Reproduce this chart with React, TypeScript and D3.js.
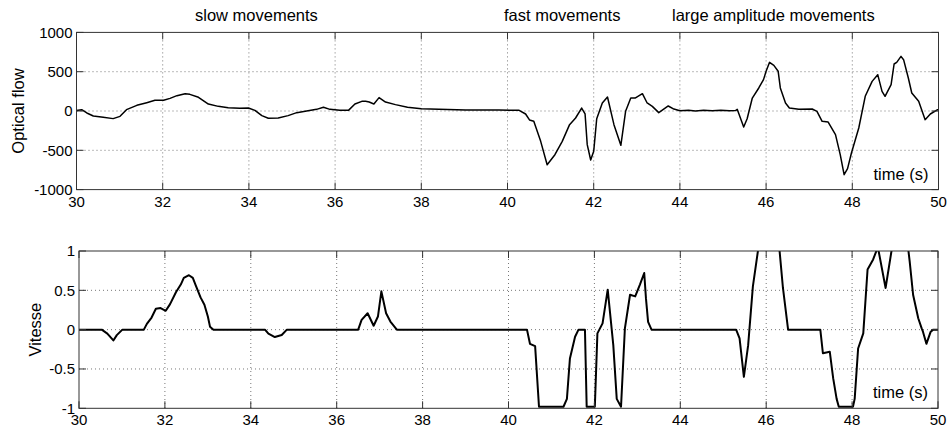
import React from 'react';
import * as d3 from 'd3';

// ── Data ──────────────────────────────────────────────────────────────────
const flowT = [
  30.0, 30.12, 30.24, 30.39, 30.62, 30.85, 31.01, 31.16, 31.4, 31.63, 31.82, 32.02,
  32.17, 32.33, 32.52, 32.63, 32.83, 33.06, 33.29, 33.52, 33.79, 33.99, 34.14, 34.3,
  34.45, 34.68, 34.91, 35.11, 35.34, 35.57, 35.73, 35.88, 36.11, 36.31, 36.46, 36.62,
  36.71, 36.79, 36.9, 37.02, 37.17, 37.4, 37.68, 38.0, 38.41, 39.03, 39.8, 40.27,
  40.42, 40.51, 40.61, 40.77, 40.92, 41.1, 41.27, 41.44, 41.58, 41.72, 41.8, 41.85,
  41.93, 42.0, 42.07, 42.2, 42.32, 42.47, 42.63, 42.74, 42.86, 42.96, 43.13, 43.24,
  43.36, 43.51, 43.73, 43.86, 44.0, 44.2, 44.36, 44.55, 44.75, 44.95, 45.15, 45.29,
  45.33, 45.37, 45.48, 45.56, 45.68, 45.83, 45.94, 46.0, 46.08, 46.18, 46.28, 46.33,
  46.45, 46.54, 46.76, 47.07, 47.18, 47.3, 47.44, 47.61, 47.72, 47.81, 47.89, 47.98,
  48.15, 48.3, 48.46, 48.59, 48.69, 48.76, 48.9, 48.97, 49.03, 49.13, 49.19, 49.3,
  49.38, 49.54, 49.69, 49.81, 49.98, 50.0,
];
const flowV = [
  5, 17, -25, -64, -80, -97, -68, 17, 72, 106, 136, 136,
  161, 195, 220, 212, 174, 89, 59, 42, 34, 38, 8, -59,
  -93, -89, -59, -21, 0, 21, 47, 21, 8, 8, 89, 123,
  123, 114, 89, 170, 114, 81, 47, 30, 21, 13, 13, 8,
  -38, -114, -131, -386, -683, -556, -386, -174, -89, 38, -38, -428,
  -623, -513, -98, 102, 178, -174, -437, -4, 165, 165, 220, 102,
  59, -21, 64, 25, 4, 10, 0, 8, 2, 8, 2, 6,
  21, -38, -204, -98, 165, 293, 399, 505, 619, 581, 505, 293,
  102, 38, 21, 25, -4, -131, -140, -301, -555, -810, -734, -534,
  -216, 187, 377, 462, 250, 187, 335, 598, 619, 695, 653, 420,
  229, 123, -110, -38, 17, 17,
];

const speedT = [
  30.0, 30.53, 30.66, 30.8, 30.88, 31.01, 31.51, 31.58, 31.69, 31.79, 31.9, 32.02,
  32.12, 32.26, 32.37, 32.44, 32.56, 32.65, 32.72, 32.83, 32.92, 33.0, 33.05, 33.13,
  34.33, 34.41, 34.56, 34.72, 34.84, 36.5, 36.58, 36.72, 36.86, 36.96, 37.04, 37.15,
  37.25, 37.4, 40.43, 40.5, 40.62, 40.71, 41.28, 41.36, 41.43, 41.55, 41.63, 41.78,
  41.82, 42.01, 42.07, 42.19, 42.31, 42.44, 42.52, 42.62, 42.71, 42.83, 42.95, 43.06,
  43.16, 43.2, 43.25, 43.33, 45.3, 45.38, 45.48, 45.58, 45.69, 45.81, 45.95, 46.1,
  46.31, 46.39, 46.51, 47.26, 47.32, 47.48, 47.56, 47.64, 47.69, 48.02, 48.06, 48.14,
  48.26, 48.36, 48.49, 48.6, 48.78, 48.92, 49.1, 49.31, 49.34, 49.42, 49.54, 49.62,
  49.65, 49.73, 49.83, 49.89, 50.0,
];
const speedV = [
  0, 0, -0.05, -0.137, -0.07, 0, 0, 0.073, 0.154, 0.265, 0.274, 0.24,
  0.325, 0.479, 0.573, 0.658, 0.692, 0.658, 0.56, 0.41, 0.316, 0.167, 0.038, 0,
  0, -0.05, -0.094, -0.068, 0, 0, 0.124, 0.209, 0.05, 0.167, 0.487, 0.209,
  0.103, 0, 0, -0.18, -0.21, -0.98, -0.98, -0.88, -0.367, -0.09, 0, 0,
  -0.98, -0.98, -0.047, 0.08, 0.508, -0.197, -0.88, -0.98, 0.017, 0.444, 0.423, 0.573,
  0.72, 0.4, 0.1, 0, 0, -0.11, -0.6, -0.197, 0.55, 1.01, 1.5, 1.55,
  1.01, 0.53, 0, 0, -0.3, -0.28, -0.62, -0.88, -0.98, -0.98, -0.88, -0.24,
  -0.047, 0.765, 0.893, 1.05, 0.53, 1.01, 1.4, 1.01, 0.87, 0.444, 0.145, 0.017,
  -0.026, -0.18, -0.026, 0, 0,
];

const xTicks = [30, 32, 34, 36, 38, 40, 42, 44, 46, 48, 50];
const flowTicks = [-1000, -500, 0, 500, 1000];
const speedTicks = [-1, -0.5, 0, 0.5, 1];
const speedTickLabels = ['-1', '-0.5', '0', '0.5', '1'];
const sections = [
  { label: 'slow movements', x: 195 },
  { label: 'fast movements', x: 504 },
  { label: 'large amplitude movements', x: 672 },
];

const FONT = '"Liberation Sans", Arial, Helvetica, sans-serif';

type PanelProps = {
  id: string;
  t: number[];
  v: number[];
  xRange: [number, number];
  yDomain: [number, number];
  yRange: [number, number];
  yTicks: number[];
  yLabels: string[];
  yTitle: string;
  yTitleX: number;
  lineWidth: number;
};

const Panel = ({ id, t, v, xRange, yDomain, yRange, yTicks, yLabels, yTitle, yTitleX, lineWidth }: PanelProps) => {
  const x = d3.scaleLinear().domain([30, 50]).range(xRange);
  const y = d3.scaleLinear().domain(yDomain).range(yRange);
  const [x0, x1] = xRange;
  const [yb, yt] = yRange;
  const line = d3
    .line<number>()
    .x((_d, i) => x(t[i]))
    .y((d) => y(d));
  const tick = 7;

  return (
    <g>
      <defs>
        <clipPath id={id}>
          <rect x={x0} y={yt} width={x1 - x0} height={yb - yt} />
        </clipPath>
      </defs>
      {/* grid */}
      {xTicks.slice(1, -1).map((d) => (
        <line key={'gx' + d} x1={x(d)} x2={x(d)} y1={yt} y2={yb} stroke="#777" strokeDasharray="1,3" />
      ))}
      {yTicks.slice(1, -1).map((d) => (
        <line key={'gy' + d} x1={x0} x2={x1} y1={y(d)} y2={y(d)} stroke="#777" strokeDasharray="1,3" />
      ))}
      {/* data */}
      <path d={line(v) ?? ''} fill="none" stroke="#000" strokeWidth={lineWidth} strokeLinejoin="round" clipPath={`url(#${id})`} />
      {/* box + inward ticks */}
      <rect x={x0} y={yt} width={x1 - x0} height={yb - yt} fill="none" stroke="#333" />
      {xTicks.map((d) => (
        <g key={'tx' + d}>
          <line x1={x(d)} x2={x(d)} y1={yb} y2={yb - tick} stroke="#333" />
          <line x1={x(d)} x2={x(d)} y1={yt} y2={yt + tick} stroke="#333" />
          <text x={x(d)} y={yb + 17} textAnchor="middle" fontSize={15} fontFamily={FONT}>
            {d}
          </text>
        </g>
      ))}
      {yTicks.map((d, i) => (
        <g key={'ty' + d}>
          <line x1={x0} x2={x0 + tick} y1={y(d)} y2={y(d)} stroke="#333" />
          <line x1={x1} x2={x1 - tick} y1={y(d)} y2={y(d)} stroke="#333" />
          <text x={x0 - 4} y={y(d)} dy="0.35em" textAnchor="end" fontSize={15} fontFamily={FONT}>
            {yLabels[i]}
          </text>
        </g>
      ))}
      <text
        transform={`translate(${yTitleX},${(yt + yb) / 2}) rotate(-90)`}
        textAnchor="middle"
        fontSize={16.5}
        fontFamily={FONT}
      >
        {yTitle}
      </text>
      <text x={x1 - 10} y={yb - 10} textAnchor="end" fontSize={16.5} fontFamily={FONT}>
        time (s)
      </text>
    </g>
  );
};

export default function App() {
  return (
    <svg
      width={948}
      height={430}
      style={{ position: 'absolute', left: 0, top: 0, background: '#fff', display: 'block' }}
    >
      <rect width={948} height={430} fill="#fff" />
      {sections.map((s) => (
        <text key={s.label} x={s.x} y={21} fontSize={16.5} fontFamily={FONT}>
          {s.label}
        </text>
      ))}
      <Panel
        id="clipFlow"
        t={flowT}
        v={flowV}
        xRange={[76.5, 938.5]}
        yDomain={[-1000, 1000]}
        yRange={[189.6, 32.4]}
        yTicks={flowTicks}
        yLabels={flowTicks.map(String)}
        yTitle="Optical flow"
        yTitleX={24}
        lineWidth={1.5}
      />
      <Panel
        id="clipSpeed"
        t={speedT}
        v={speedV}
        xRange={[79, 938]}
        yDomain={[-1, 1]}
        yRange={[408.3, 251]}
        yTicks={speedTicks}
        yLabels={speedTickLabels}
        yTitle="Vitesse"
        yTitleX={41}
        lineWidth={2}
      />
    </svg>
  );
}
